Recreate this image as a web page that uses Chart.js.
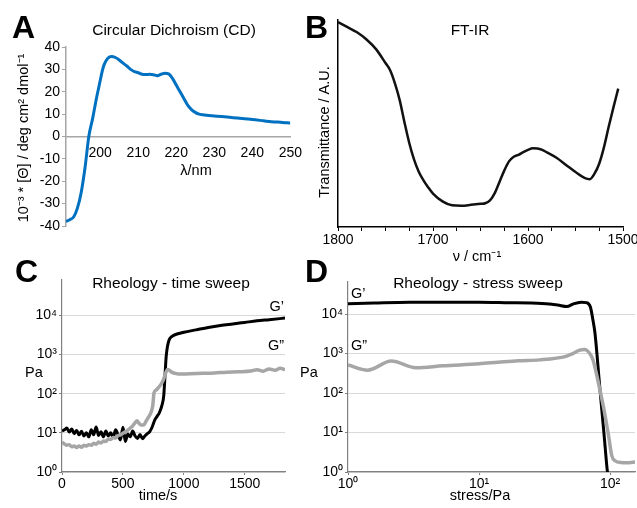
<!DOCTYPE html>
<html>
<head>
<meta charset="utf-8">
<script src="https://cdn.jsdelivr.net/npm/chart.js@4.4.0/dist/chart.umd.min.js"></script>
<style>
  body { margin: 0; background: #fff; }
  #wrap { position: relative; width: 637px; height: 508px; overflow: hidden; background: #fff; }
  canvas { position: absolute; }
</style>
</head>
<body>
<div id="wrap">
  <canvas id="cd" width="310" height="250" style="left:0;top:0"></canvas>
  <canvas id="ir" width="337" height="265" style="left:300px;top:0"></canvas>
  <canvas id="time" width="310" height="258" style="left:0;top:250px"></canvas>
  <canvas id="stress" width="337" height="258" style="left:300px;top:250px"></canvas>
</div>
<script>
// A - circular dichroism
const cdWavelength = [191, 192, 193, 194, 195, 196, 197, 198, 199, 200, 200.5, 201, 202, 203, 204, 205, 206, 207, 208, 209, 210, 211, 212, 213, 214, 215, 216, 217, 218, 219, 220, 221, 222, 223, 224, 225, 226, 227, 228, 230, 232, 235, 238, 240, 243, 245, 248, 250];
const cdEllipticity = [-38, -37.2, -36, -32, -25, -14, 0, 8, 17, 25, 29, 32, 35, 35.8, 35.3, 34.2, 32.8, 31.5, 30, 29, 28.5, 27.8, 27.7, 27.8, 27.6, 27.2, 27.8, 28.3, 28, 26, 23, 20, 17, 14, 12, 10.8, 10, 9.7, 9.5, 9.2, 8.9, 8.4, 7.9, 7.6, 7.0, 6.6, 6.3, 6.0];
const cdXTicks = [200, 210, 220, 230, 240, 250];
const cdYTicks = [-40, -30, -20, -10, 0, 10, 20, 30, 40];

// B - FT-IR
const irWavenumber = [1800, 1790, 1780, 1770, 1760, 1750, 1745, 1740, 1735, 1730, 1725, 1720, 1715, 1710, 1705, 1700, 1690, 1680, 1670, 1660, 1650, 1645, 1640, 1635, 1630, 1625, 1620, 1615, 1610, 1605, 1600, 1595, 1590, 1585, 1580, 1570, 1560, 1550, 1540, 1535, 1530, 1525, 1520, 1515, 1510, 1505];
const irTransmittance = [100, 97.5, 95, 91.5, 86.8, 80, 76.4, 70, 61.8, 51, 41, 33, 27, 22.8, 19.3, 16.3, 12.5, 10.6, 10.4, 10.8, 11.3, 11.6, 13, 16.5, 22, 27.5, 32, 34.3, 35.2, 36.5, 37.6, 38.4, 38.3, 37.6, 36.4, 33.8, 30.3, 26.8, 23.8, 23.3, 26, 31, 39, 49, 58.5, 67.5];
const irTicks = [1500, 1525, 1550, 1575, 1600, 1625, 1650, 1675, 1700, 1725, 1750, 1775, 1800];

// C - time sweep
const tsTime = [0, 20, 40, 60, 80, 100, 120, 140, 160, 180, 200, 220, 240, 260, 280, 300, 320, 340, 360, 380, 400, 420, 440, 460, 480, 500, 520, 540, 560, 580, 600, 620, 640, 660, 680, 700, 720, 740, 760, 780, 800, 820, 835, 845, 855, 865, 880, 900, 950, 1000, 1100, 1200, 1300, 1400, 1500, 1600, 1700, 1830];
const tsStorage = [11.2, 12.0, 13.2, 10.5, 12.6, 9.5, 11.5, 8.9, 11.0, 8.3, 10.0, 7.9, 12.0, 8.9, 14.1, 8.5, 10.7, 7.9, 11.2, 8.3, 10.0, 7.6, 12.0, 8.9, 6.6, 13.8, 6.0, 9.3, 7.9, 11.2, 8.3, 7.2, 9.1, 7.1, 8.3, 9.5, 10.7, 14.1, 20.9, 26.3, 33.1, 50.1, 89, 282, 891, 1585, 2399, 2884, 3388, 3715, 4266, 4898, 5495, 6026, 6607, 7244, 7762, 8511];
const tsTimeLoss = [0, 20, 40, 60, 80, 100, 120, 140, 160, 180, 200, 220, 240, 260, 280, 300, 320, 340, 360, 380, 400, 420, 440, 460, 480, 500, 520, 540, 560, 580, 600, 615, 630, 650, 670, 690, 710, 730, 745, 755, 775, 795, 815, 835, 850, 865, 880, 900, 930, 970, 1050, 1150, 1250, 1350, 1450, 1550, 1600, 1650, 1700, 1750, 1790, 1830];
const tsLoss = [5.8, 5.2, 4.8, 5.0, 4.4, 4.6, 4.2, 4.6, 4.3, 4.8, 4.6, 5.0, 4.8, 5.4, 5.1, 5.8, 5.5, 6.2, 6.0, 6.9, 6.8, 7.6, 7.4, 8.5, 8.9, 9.8, 10.7, 11.7, 13.2, 15.1, 18.2, 20.4, 17.8, 15.8, 15.8, 20.0, 25.1, 33.1, 50, 105, 126, 148, 178, 240, 331, 417, 398, 355, 331, 316, 324, 331, 339, 355, 363, 380, 410, 375, 430, 395, 445, 410];
const timeTicks = [0, 500, 1000, 1500];

// D - stress sweep
const ssStress = [1, 1.58, 2.95, 6.31, 10, 15.8, 30.2, 39.8, 46.8, 52.5, 60.3, 66.1, 70.8, 74, 76.7, 83.2, 90, 95.5, 98];
const ssStorage = [18200, 19050, 19950, 19950, 19950, 19500, 18620, 17000, 15500, 18200, 19950, 19500, 15100, 7080, 3311, 158, 8.9, 1.0, 0.6];
const ssStressLoss = [1, 1.41, 2.14, 3.3, 5.3, 10, 14, 20, 29, 46, 52, 58, 64, 70, 74, 79.4, 89, 97.7, 103, 110, 120, 140, 155];
const ssLoss = [513, 380, 646, 437, 490, 550, 603, 661, 692, 851, 1000, 1200, 1260, 1000, 700, 270, 45, 7.8, 2.6, 1.9, 1.75, 1.72, 1.78];
const stressTicks = [1, 10, 100];
const paTicks = [1, 10, 100, 1000, 10000];

const FONT = '"Liberation Sans", Arial, sans-serif';
Chart.defaults.font.family = FONT;
Chart.defaults.color = '#000';
Chart.defaults.animation = false;
Chart.defaults.responsive = false;
Chart.defaults.plugins.legend.display = false;
Chart.defaults.plugins.tooltip.enabled = false;
Chart.defaults.elements.point.radius = 0;

const sup = ['⁰', '¹', '²', '³', '⁴'];
function powLabel(v) { return '10' + sup[Math.round(Math.log10(v))]; }
function fixTicks(list) { return function (scale) { scale.ticks = list.map(v => ({ value: v })); }; }
function fixWidth(w) { return function (scale) { scale.width = w; }; }
function fixHeight(h) { return function (scale) { scale.height = h; }; }
function xy(xs, ys) { return xs.map((x, i) => ({ x: x, y: ys[i] })); }

// plain canvas text for panel letters, titles and axis names
function textLayer(items) {
  return {
    id: 'textLayer',
    afterDraw(chart) {
      const ctx = chart.ctx;
      items.forEach(it => {
        ctx.save();
        ctx.font = it.font || ('14.5px ' + FONT);
        ctx.fillStyle = '#000';
        ctx.textAlign = it.align || 'center';
        ctx.textBaseline = 'alphabetic';
        ctx.translate(it.x, it.y);
        if (it.rot) ctx.rotate(it.rot);
        ctx.fillText(it.text, 0, 0);
        ctx.restore();
      });
    }
  };
}
const BIG = 'bold 32px ' + FONT;
const TITLE = '15.5px ' + FONT;
const TICK = { size: 14 };

new Chart(document.getElementById('cd'), {
  type: 'line',
  data: { datasets: [{ data: xy(cdWavelength, cdEllipticity), borderColor: '#0070c0', borderWidth: 3, cubicInterpolationMode: 'monotone' }] },
  options: {
    layout: { padding: { left: 0, top: 47, right: 19, bottom: 24 } },
    scales: {
      x: {
        type: 'linear', min: 191, max: 250, position: { y: 0 },
        afterBuildTicks: fixTicks(cdXTicks),
        grid: { drawOnChartArea: false, drawTicks: false },
        border: { color: '#a6a6a6', width: 1.5 },
        ticks: { padding: 8, maxRotation: 0, font: TICK }
      },
      y: {
        min: -40, max: 40,
        afterBuildTicks: fixTicks(cdYTicks), afterFit: fixWidth(66),
        grid: { drawOnChartArea: false, tickLength: 4, color: '#a6a6a6' },
        border: { color: '#a6a6a6', width: 1.5 },
        ticks: { padding: 2, font: TICK }
      }
    }
  },
  plugins: [textLayer([
    { text: 'A', x: 12, y: 38, font: BIG, align: 'left' },
    { text: 'Circular Dichroism (CD)', x: 174, y: 35, font: TITLE },
    { text: '10⁻³ * [Θ] / deg cm² dmol⁻¹', x: 28, y: 138, rot: -Math.PI / 2 },
    { text: 'λ/nm', x: 196, y: 175 }
  ])]
});

new Chart(document.getElementById('ir'), {
  type: 'line',
  data: { datasets: [{ data: xy(irWavenumber, irTransmittance), borderColor: '#111', borderWidth: 2.5, cubicInterpolationMode: 'monotone' }] },
  options: {
    layout: { padding: { left: 0, top: 20, right: 14, bottom: 0 } },
    scales: {
      x: {
        type: 'linear', reverse: true, min: 1500, max: 1800,
        afterBuildTicks: fixTicks(irTicks), afterFit: fixHeight(38),
        grid: { drawOnChartArea: false, tickLength: 4, color: '#000' },
        border: { color: '#000', width: 1.5 },
        ticks: { autoSkip: false, maxRotation: 0, padding: 1, font: TICK, callback: v => (v % 100 === 0 ? String(v) : '') }
      },
      y: {
        min: 0, max: 101, afterFit: fixWidth(38),
        grid: { drawOnChartArea: false, drawTicks: false },
        border: { color: '#000', width: 1.5 },
        ticks: { display: false }
      }
    }
  },
  plugins: [textLayer([
    { text: 'B', x: 5, y: 38, font: BIG, align: 'left' },
    { text: 'FT-IR', x: 170, y: 35, font: TITLE },
    { text: 'Transmittance / A.U.', x: 29, y: 132, rot: -Math.PI / 2 },
    { text: 'ν / cm⁻¹', x: 177, y: 261 }
  ])]
});

new Chart(document.getElementById('time'), {
  type: 'line',
  data: { datasets: [
    { data: xy(tsTimeLoss, tsLoss), borderColor: '#a6a6a6', borderWidth: 3.5, cubicInterpolationMode: 'monotone' },
    { data: xy(tsTime, tsStorage), borderColor: '#000', borderWidth: 3, cubicInterpolationMode: 'monotone' }
  ] },
  options: {
    layout: { padding: { left: 0, top: 30, right: 25, bottom: 0 } },
    scales: {
      x: {
        type: 'linear', min: 0, max: 1830,
        afterBuildTicks: fixTicks(timeTicks), afterFit: fixHeight(36),
        grid: { drawOnChartArea: false, tickLength: 3, color: '#808080' },
        border: { color: '#808080', width: 1.2 },
        ticks: { maxRotation: 0, padding: 1, font: TICK, callback: v => String(v) }
      },
      y: {
        type: 'logarithmic', min: 1, max: 80000,
        afterBuildTicks: fixTicks(paTicks), afterFit: fixWidth(62),
        grid: { color: '#d9d9d9', tickColor: '#808080', tickLength: 3 },
        border: { color: '#808080', width: 1.2 },
        ticks: { padding: 2, font: TICK, callback: powLabel }
      }
    }
  },
  plugins: [textLayer([
    { text: 'C', x: 15, y: 32, font: BIG, align: 'left' },
    { text: 'Rheology - time sweep', x: 171, y: 38, font: TITLE },
    { text: 'Pa', x: 25, y: 127, align: 'left' },
    { text: 'time/s', x: 158, y: 250 },
    { text: 'G’', x: 284, y: 61, align: 'right' },
    { text: 'G”', x: 284, y: 100, align: 'right' }
  ])]
});

new Chart(document.getElementById('stress'), {
  type: 'line',
  data: { datasets: [
    { data: xy(ssStressLoss, ssLoss), borderColor: '#a6a6a6', borderWidth: 3.5, cubicInterpolationMode: 'monotone' },
    { data: xy(ssStress, ssStorage), borderColor: '#000', borderWidth: 3, cubicInterpolationMode: 'monotone' }
  ] },
  options: {
    layout: { padding: { left: 0, top: 32, right: 2, bottom: 0 } },
    scales: {
      x: {
        type: 'logarithmic', min: 1, max: 155,
        afterBuildTicks: fixTicks(stressTicks), afterFit: fixHeight(36),
        grid: { drawOnChartArea: false, tickLength: 3, color: '#808080' },
        border: { color: '#808080', width: 1.2 },
        ticks: { maxRotation: 0, padding: 1, font: TICK, callback: powLabel }
      },
      y: {
        type: 'logarithmic', min: 1, max: 65000,
        afterBuildTicks: fixTicks(paTicks), afterFit: fixWidth(48),
        grid: { color: '#d9d9d9', tickColor: '#808080', tickLength: 3 },
        border: { color: '#808080', width: 1.2 },
        ticks: { padding: 2, font: TICK, callback: powLabel }
      }
    }
  },
  plugins: [textLayer([
    { text: 'D', x: 5, y: 32, font: BIG, align: 'left' },
    { text: 'Rheology - stress sweep', x: 178, y: 38, font: TITLE },
    { text: 'Pa', x: 0, y: 127, align: 'left' },
    { text: 'stress/Pa', x: 180, y: 250 },
    { text: 'G’', x: 51, y: 48, align: 'left' },
    { text: 'G”', x: 51, y: 100, align: 'left' }
  ])]
});
</script>
</body>
</html>
